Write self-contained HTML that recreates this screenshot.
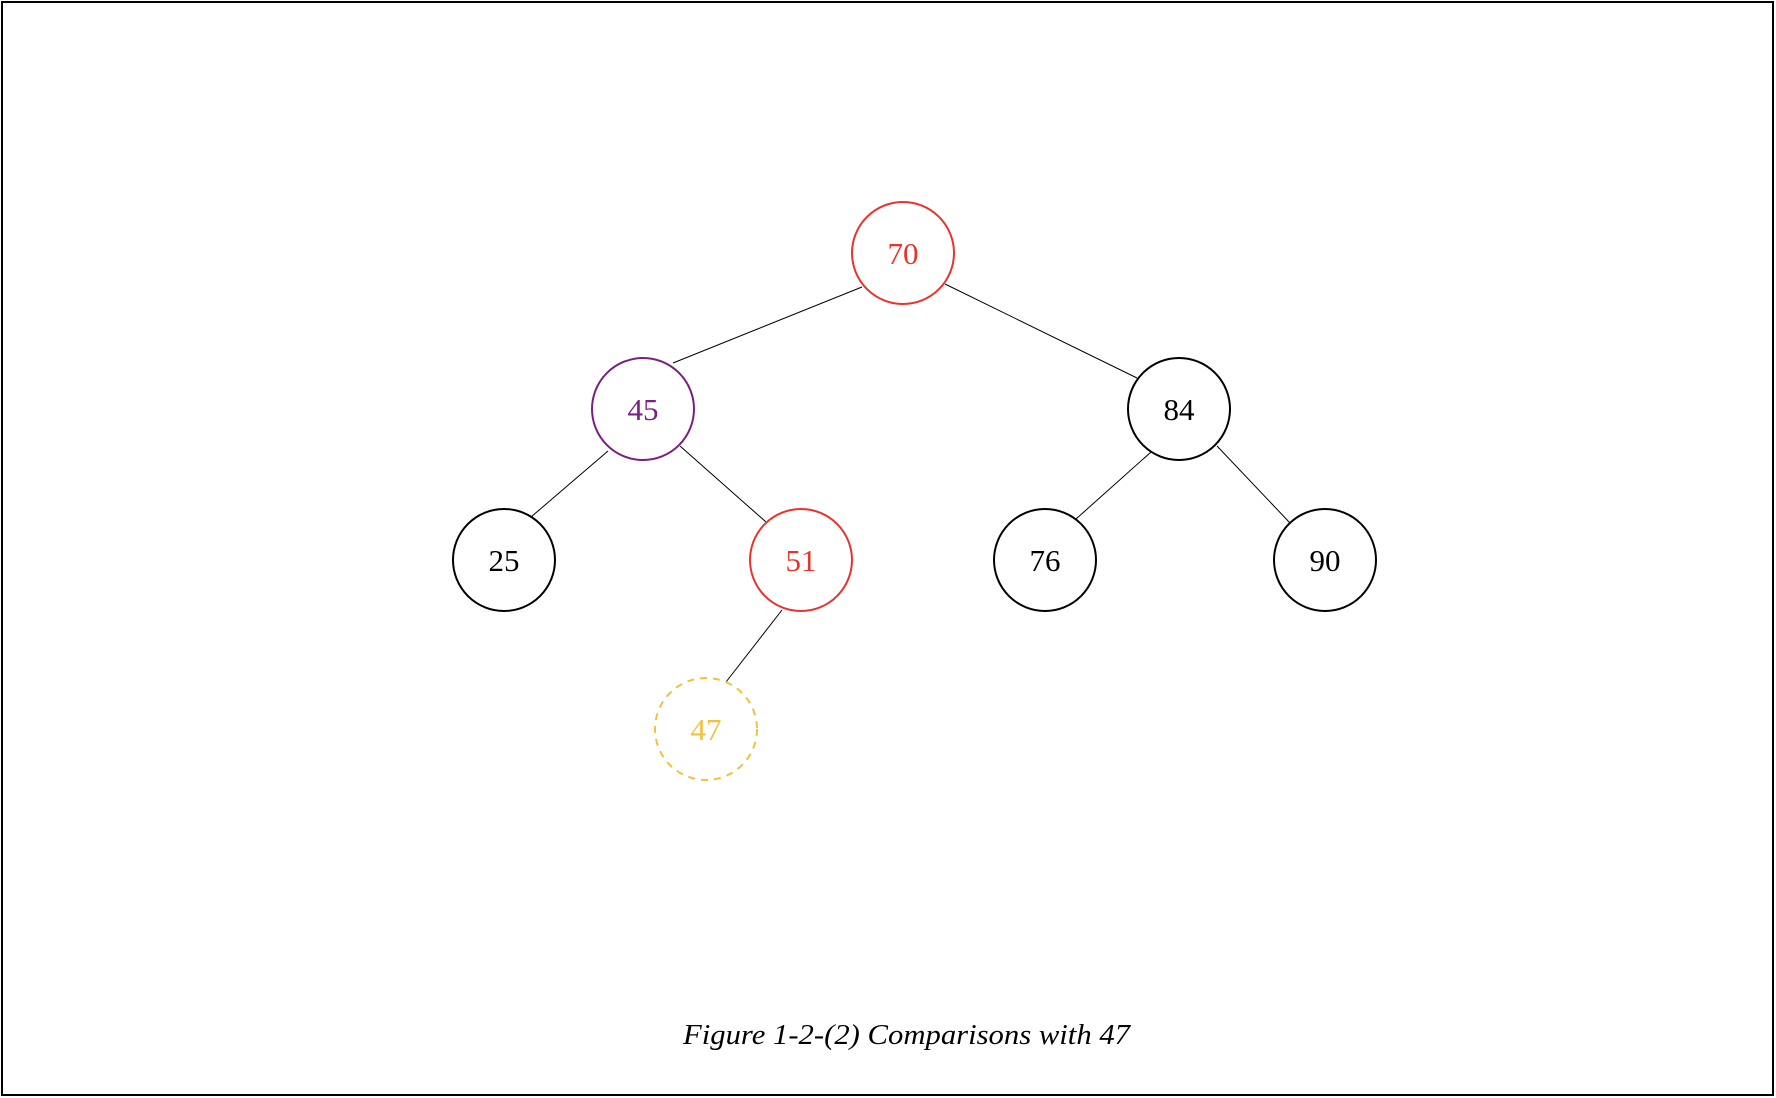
<!DOCTYPE html>
<html><head><meta charset="utf-8"><style>html,body{margin:0;padding:0;background:#fff}svg{display:block}</style></head>
<body>
<svg width="1776" height="1098" viewBox="0 0 1776 1098" xmlns="http://www.w3.org/2000/svg" font-family="Liberation Serif, serif">
<rect x="2" y="2" width="1771" height="1093" fill="#fff" stroke="#000" stroke-width="2"/>
<g stroke="#000" stroke-width="1">
<line x1="862" y1="287" x2="673" y2="363"/>
<line x1="945" y1="284" x2="1137" y2="378"/>
<line x1="608" y1="451" x2="531" y2="517"/>
<line x1="680" y1="446" x2="766" y2="522"/>
<line x1="1151" y1="452" x2="1076" y2="519"/>
<line x1="1217" y1="446" x2="1290" y2="523"/>
<line x1="782" y1="610" x2="726" y2="682"/>
</g>
<g fill="none" stroke-width="2">
<circle cx="903" cy="253" r="51" stroke="#e8342a"/>
<circle cx="643" cy="409" r="51" stroke="#7a1f82"/>
<circle cx="1179" cy="409" r="51" stroke="#000"/>
<circle cx="504" cy="560" r="51" stroke="#000"/>
<circle cx="801" cy="560" r="51" stroke="#e8342a"/>
<circle cx="1045" cy="560" r="51" stroke="#000"/>
<circle cx="1325" cy="560" r="51" stroke="#000"/>
<circle cx="706" cy="729" r="51" stroke="#f2c13e" stroke-dasharray="7,6"/>
</g>
<g font-size="31" text-anchor="middle">
<text x="903" y="264" fill="#e8342a">70</text>
<text x="643" y="420" fill="#7a1f82">45</text>
<text x="1179" y="420" fill="#000">84</text>
<text x="504" y="571" fill="#000">25</text>
<text x="801" y="571" fill="#e8342a">51</text>
<text x="1045" y="571" fill="#000">76</text>
<text x="1325" y="571" fill="#000">90</text>
<text x="706" y="740" fill="#f2c13e">47</text>
</g>
<text x="683" y="1044" font-size="29" font-style="italic" textLength="447" lengthAdjust="spacingAndGlyphs">Figure 1-2-(2) Comparisons with 47</text>
</svg>
</body></html>
